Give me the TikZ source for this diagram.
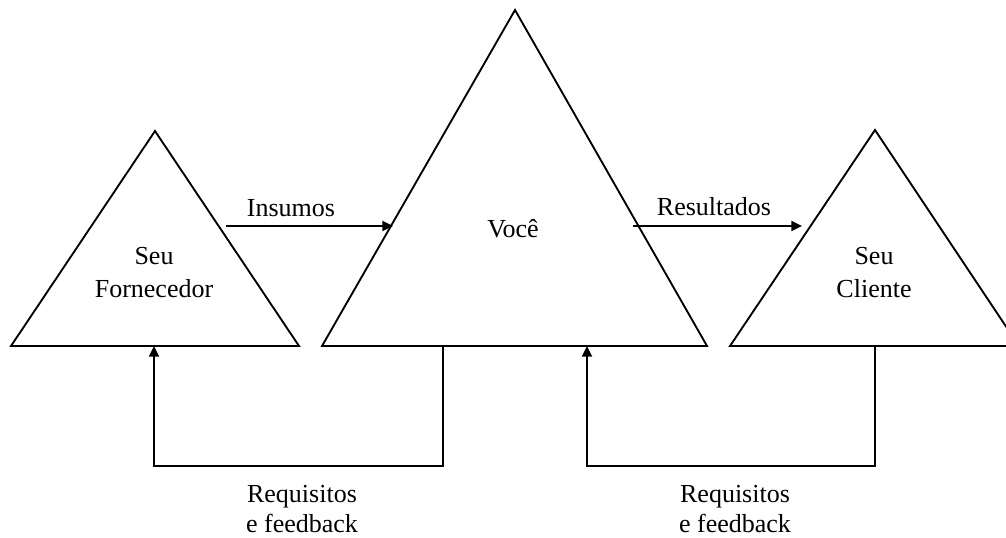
\documentclass[tikz,border=0pt]{standalone}
\usepackage{fontspec}
\setmainfont{Liberation Serif}
\usetikzlibrary{arrows.meta}
\begin{document}
\begin{tikzpicture}[x=0.75pt,y=-0.75pt,
  tri/.style={draw=black,line width=1.4pt,line join=miter},
  flow/.style={draw=black,line width=1.5pt,-{Triangle[length=8pt,width=7.5pt]}},
  lbl/.style={inner sep=0pt,anchor=base,font=\fontsize{19.5}{24.75}\selectfont},
  lblfb/.style={lbl,align=center,font=\fontsize{19.5}{22.5}\selectfont},
  lbltri/.style={lbl,align=center}]
  \useasboundingbox (0,0) rectangle (1006,537);
  \clip (0,0) rectangle (1006,537);

  % supplier triangle
  \coordinate (fA) at (155,131);
  \coordinate (fL) at (11,346);
  \coordinate (fR) at (299,346);
  % central triangle
  \coordinate (vA) at (515,10);
  \coordinate (vL) at (322,346);
  \coordinate (vR) at (707,346);
  % customer triangle (right corner runs off the page)
  \coordinate (cA) at (875,130);
  \coordinate (cL) at (730,346);
  \coordinate (cR) at (1019,346);

  \draw[tri] (fA) -- (fL) -- (fR) -- cycle;
  \draw[tri] (vA) -- (vL) -- (vR) -- cycle;
  \draw[tri] (cA) -- (cL) -- (cR) -- cycle;

  % labels inside the triangles (base = last line)
  \node[lbltri] (forn) at (154,297) {Seu\\Fornecedor};
  \node[lbl] (voce) at (513,237) {Você};
  \node[lbltri] (cli) at (874,297) {Seu\\Cliente};

  % forward flows
  \coordinate (insS) at (226,226);
  \coordinate (insE) at (393,226);
  \coordinate (resS) at (633,226);
  \coordinate (resE) at (802,226);
  \draw[flow] (insS) -- (insE);
  \draw[flow] (resS) -- (resE);
  \node[lbl] (ins) at (291,216) {Insumos};
  \node[lbl] (res) at (714,215) {Resultados};

  % feedback loops
  \coordinate (fb1S) at (443,346);
  \coordinate (fb1E) at (154,346);
  \coordinate (fb2S) at (875,346);
  \coordinate (fb2E) at (587,346);
  \draw[flow,line width=1.4pt] (fb1S) -- ++(0,120) -| (fb1E);
  \draw[flow,line width=1.4pt] (fb2S) -- ++(0,120) -| (fb2E);
  \node[lblfb] (req1) at (302,532) {Requisitos\\e feedback};
  \node[lblfb] (req2) at (735,532) {Requisitos\\e feedback};
\end{tikzpicture}
\end{document}
